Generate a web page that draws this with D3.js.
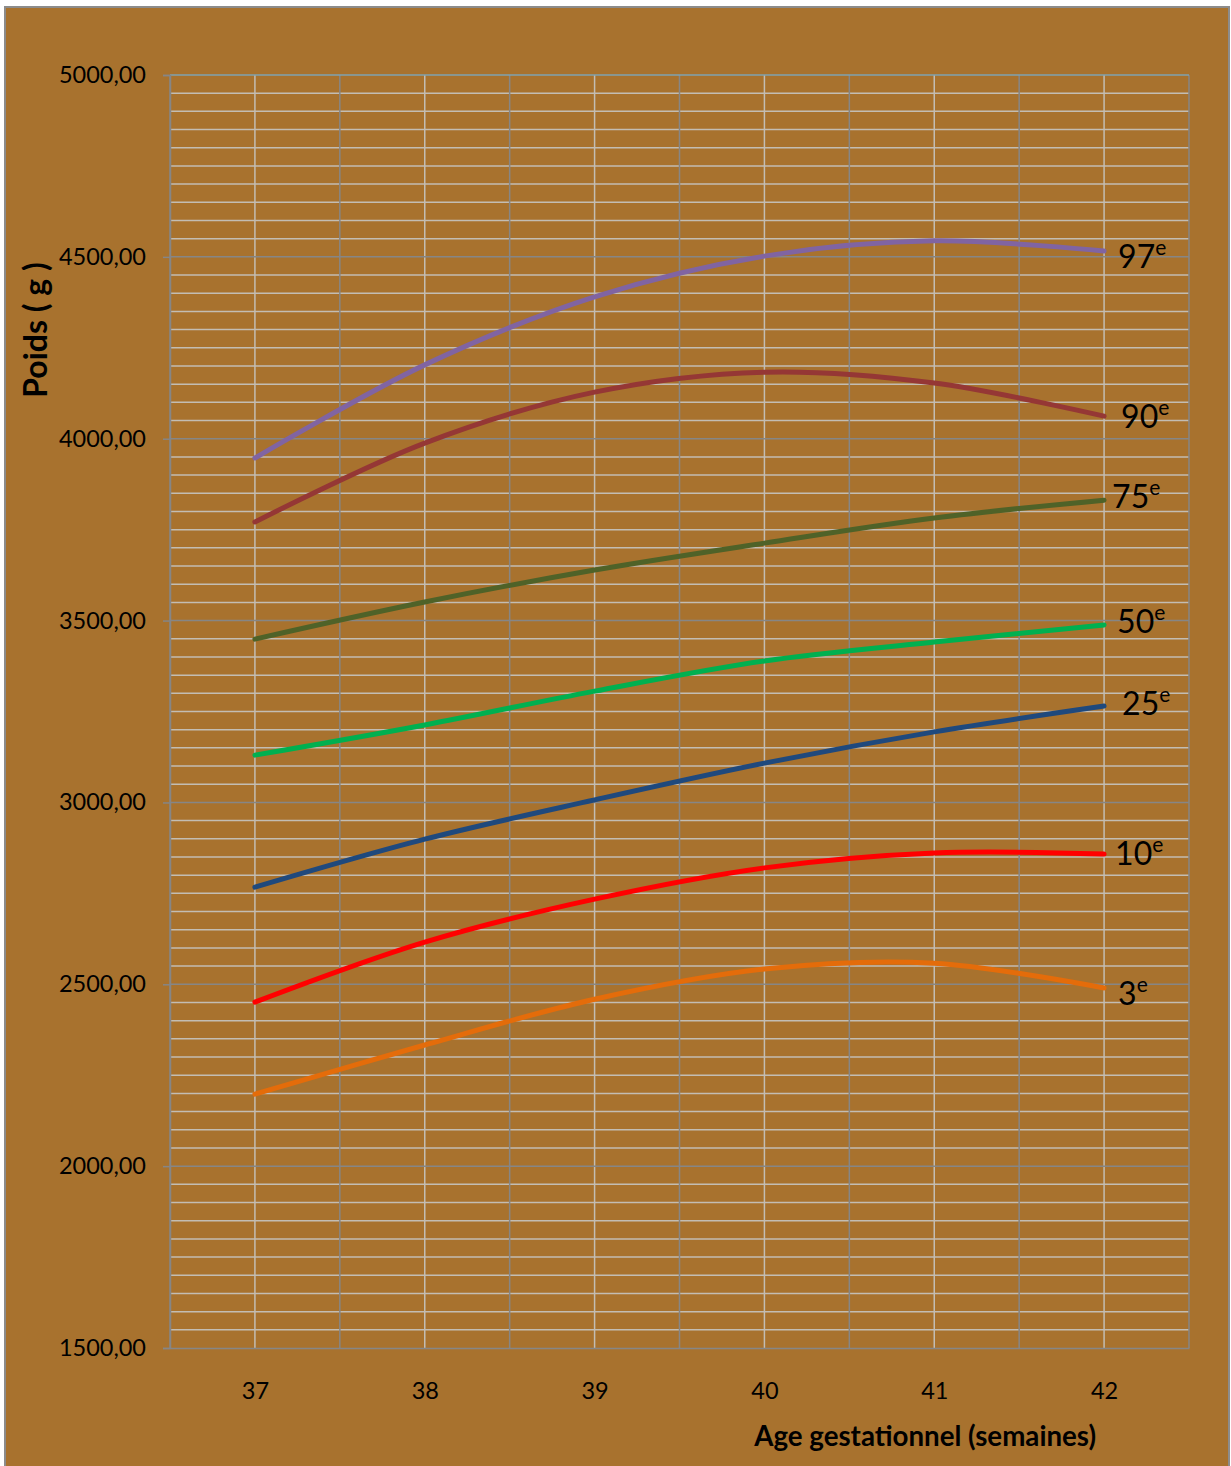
<!DOCTYPE html>
<html>
<head>
<meta charset="utf-8">
<script src="https://cdn.jsdelivr.net/npm/d3@7"></script>
<style>
  html, body { margin: 0; padding: 0; background: #ffffff; }
  svg { display: block; }
  text { font-family: Lato, "Open Sans", sans-serif; fill: #000; }
</style>
</head>
<body>
<svg id="chart" width="1231" height="1466"></svg>
<script>
// Gestational age (weeks) and birth-weight percentiles (g)
const weeks = [37, 38, 39, 40, 41, 42];
const xTicks = [37, 38, 39, 40, 41, 42];
const yTicks = [1500, 2000, 2500, 3000, 3500, 4000, 4500, 5000];

const p97 = [3947, 4203, 4390, 4502, 4544, 4516];
const p90 = [3771, 3988, 4128, 4183, 4153, 4062];
const p75 = [3449, 3551, 3639, 3713, 3782, 3831];
const p50 = [3130, 3213, 3306, 3389, 3441, 3488];
const p25 = [2767, 2899, 3007, 3108, 3194, 3265];
const p10 = [2451, 2616, 2734, 2820, 2861, 2858];
const p03 = [2198, 2333, 2459, 2542, 2558, 2490];

const seriesNames = ["97", "90", "75", "50", "25", "10", "3"];
const seriesValues = [p97, p90, p75, p50, p25, p10, p03];

// Styling per series: stroke colour and label offset from the line end
const styles = {
  "97": { color: "#8064A2", dx: 14, dy: 17 },
  "90": { color: "#953735", dx: 17, dy: 12 },
  "75": { color: "#4F6228", dx: 8,  dy: 8 },
  "50": { color: "#00B050", dx: 13, dy: 8 },
  "25": { color: "#1F497D", dx: 18, dy: 9 },
  "10": { color: "#FF0000", dx: 11, dy: 11 },
  "3":  { color: "#E46C0A", dx: 14, dy: 17 }
};

const svg = d3.select("#chart");
const W = 1231, H = 1466;
const plot = { left: 170, right: 1189, top: 75, bottom: 1348 };

// Outer chart area
svg.append("rect")
  .attr("x", 5).attr("y", 7)
  .attr("width", 1224).attr("height", H)
  .attr("fill", "#A8722E")
  .attr("stroke", "#8C8C8C").attr("stroke-width", 2);

const x = d3.scaleLinear().domain([36.5, 42.5]).range([plot.left, plot.right]);
const y = d3.scaleLinear().domain([1500, 5000]).range([plot.bottom, plot.top]);

const g = svg.append("g");

// Minor horizontal grid (every 50 g)
const minorY = d3.range(1550, 5000, 50).filter(v => v % 500 !== 0);
g.append("g").selectAll("line").data(minorY).join("line")
  .attr("x1", plot.left).attr("x2", plot.right)
  .attr("y1", d => y(d)).attr("y2", d => y(d))
  .attr("stroke", "#C3BDB3").attr("stroke-width", 1.5);

// Minor vertical grid (whole weeks)
g.append("g").selectAll("line").data(xTicks).join("line")
  .attr("x1", d => x(d)).attr("x2", d => x(d))
  .attr("y1", plot.top).attr("y2", plot.bottom)
  .attr("stroke", "#C3BDB3").attr("stroke-width", 1.5);

// Major vertical grid (half weeks)
const majorX = d3.range(36.5, 42.51, 1);
g.append("g").selectAll("line").data(majorX).join("line")
  .attr("x1", d => x(d)).attr("x2", d => x(d))
  .attr("y1", plot.top).attr("y2", plot.bottom)
  .attr("stroke", "#868686").attr("stroke-width", 1.5);

// Major horizontal grid (every 500 g)
g.append("g").selectAll("line").data(yTicks.filter(v => v > 1500 && v < 5000)).join("line")
  .attr("x1", plot.left).attr("x2", plot.right)
  .attr("y1", d => y(d)).attr("y2", d => y(d))
  .attr("stroke", "#868686").attr("stroke-width", 1.5);

// Top edge of the plot area
g.append("line")
  .attr("x1", plot.left).attr("x2", plot.right)
  .attr("y1", plot.top).attr("y2", plot.top)
  .attr("stroke", "#7FA3B0").attr("stroke-width", 1.5);

// Axes
const fr = d3.formatLocale({ decimal: ",", thousands: "", grouping: [3], currency: ["", " €"] });
const yAxis = d3.axisLeft(y).tickValues(yTicks).tickFormat(fr.format(".2f"))
  .tickSize(7).tickPadding(17);
const yG = g.append("g").attr("transform", `translate(${plot.left},0)`).call(yAxis);
yG.select(".domain").attr("stroke", "#868686").attr("stroke-width", 1.5);
yG.selectAll(".tick line").attr("stroke", "#868686").attr("stroke-width", 1.5);
yG.selectAll(".tick text")
  .style("font-family", "Lato, sans-serif").style("font-size", "23.5px").attr("fill", "#000");

const xAxis = d3.axisBottom(x).tickValues(xTicks).tickFormat(d3.format("d"))
  .tickSize(0).tickPadding(34);
const xG = g.append("g").attr("transform", `translate(0,${plot.bottom})`).call(xAxis);
xG.select(".domain").attr("stroke", "#868686").attr("stroke-width", 1.5);
xG.selectAll(".tick text")
  .style("font-family", "Lato, sans-serif").style("font-size", "23.5px").attr("fill", "#000");

// Percentile curves
const line = d3.line()
  .x((d, i) => x(weeks[i]))
  .y(d => y(d))
  .curve(d3.curveCatmullRom.alpha(0.5));

seriesNames.forEach((name, k) => {
  const vals = seriesValues[k];
  const st = styles[name];
  g.append("path")
    .datum(vals)
    .attr("d", line)
    .attr("fill", "none")
    .attr("stroke", st.color)
    .attr("stroke-width", 5)
    .attr("stroke-linecap", "round")
    .attr("stroke-linejoin", "round");

  const last = vals[vals.length - 1];
  const t = g.append("text")
    .attr("x", x(weeks[weeks.length - 1]) + st.dx)
    .attr("y", y(last) + st.dy)
    .style("font-size", "32px");
  t.append("tspan").text(name);
  t.append("tspan").text("e").attr("dy", -13).style("font-size", "21px");
});

// Axis titles
g.append("text")
  .attr("x", 1096).attr("y", 1446)
  .attr("text-anchor", "end")
  .style("font-size", "27.7px").style("font-weight", "bold")
  .text("Age gestationnel (semaines)");

g.append("text")
  .attr("transform", "translate(47,330) rotate(-90)")
  .attr("text-anchor", "middle")
  .style("font-size", "32px").style("font-weight", "bold")
  .text("Poids ( g )");
</script>
</body>
</html>
